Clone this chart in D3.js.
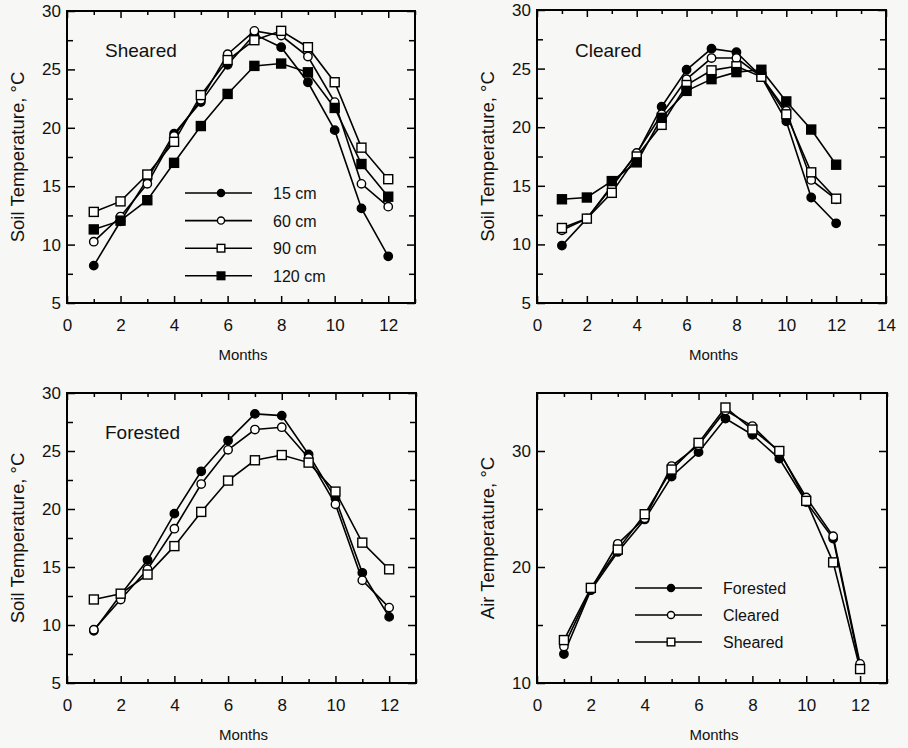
<!DOCTYPE html>
<html>
<head>
<meta charset="utf-8">
<script src="https://cdn.jsdelivr.net/npm/d3@7"></script>
<style>
  body { margin: 0; background: #f7f7f5; }
  svg { display: block; font-family: "Liberation Sans", Arial, Helvetica, sans-serif; }
  .tick text { font-size: 17px; fill: #111; }
</style>
</head>
<body>
<script>
// months on the x axis
const months = [1, 2, 3, 4, 5, 6, 7, 8, 9, 10, 11, 12]

// Sheared site, soil temp by depth
const sheared15 = [8.2, 12.0, 15.6, 19.5, 22.2, 25.4, 28.0, 26.9, 23.9, 19.8, 13.1, 9.0]
const sheared60 = [10.25, 12.4, 15.2, 19.3, 22.4, 26.3, 28.3, 27.9, 26.1, 22.2, 15.2, 13.25]
const sheared90 = [12.8, 13.7, 16.0, 18.8, 22.8, 25.8, 27.5, 28.3, 26.9, 23.9, 18.3, 15.6]
const sheared120 = [11.3, 12.05, 13.8, 17.0, 20.15, 22.9, 25.3, 25.5, 24.75, 21.7, 16.9, 14.1]

// Cleared site
const cleared15 = [9.9, 12.2, 15.0, 17.7, 21.75, 24.9, 26.7, 26.4, 24.3, 20.5, 14.0, 11.8]
const cleared60 = [11.2, 12.2, 14.9, 17.8, 21.1, 24.1, 25.9, 25.9, 24.3, 21.4, 15.5, 13.85]
const cleared90 = [11.4, 12.2, 14.4, 17.5, 20.2, 23.6, 24.85, 25.2, 24.3, 21.1, 16.15, 13.9]
const cleared120 = [13.85, 14.0, 15.4, 17.0, 20.8, 23.1, 24.1, 24.7, 24.9, 22.2, 19.8, 16.8]

// Forested site (no 120 cm)
const forested15 = [9.5, 12.6, 15.6, 19.6, 23.25, 25.9, 28.2, 28.05, 24.7, 20.9, 14.5, 10.7]
const forested60 = [9.6, 12.2, 14.8, 18.3, 22.15, 25.1, 26.85, 27.05, 24.4, 20.4, 13.85, 11.5]
const forested90 = [12.2, 12.7, 14.35, 16.8, 19.75, 22.45, 24.2, 24.65, 24.0, 21.5, 17.1, 14.8]

// Air temperature
const airForested = [12.5, 18.0, 21.3, 24.1, 27.8, 29.9, 32.8, 31.4, 29.35, 25.6, 22.45, 11.4]
const airCleared = [13.15, 18.1, 22.0, 24.2, 28.7, 30.5, 33.5, 32.15, 29.9, 26.0, 22.65, 11.65]
const airSheared = [13.7, 18.2, 21.5, 24.55, 28.4, 30.7, 33.75, 31.85, 30.0, 25.7, 20.4, 11.2]

const depthLabels = ['15 cm', '60 cm', '90 cm', '120 cm']
const siteLabels = ['Forested', 'Cleared', 'Sheared']
const symbols = ['dot', 'circle', 'square', 'fsquare']

const svg = d3.select('body').append('svg')
    .attr('width', 908)
    .attr('height', 748)

function marker(g, type, x, y, s){
    if(type == 'dot' || type == 'circle'){
        g.append('circle')
            .attr('cx', x).attr('cy', y).attr('r', 4.2 * s)
            .attr('fill', type == 'dot' ? '#000' : '#fff')
            .attr('stroke', '#000').attr('stroke-width', 1.4)
    }else{
        const h = 4.5 * s
        g.append('rect')
            .attr('x', x - h).attr('y', y - h).attr('width', 2 * h).attr('height', 2 * h)
            .attr('fill', type == 'fsquare' ? '#000' : '#fff')
            .attr('stroke', '#000').attr('stroke-width', 1.4)
    }
}

function panel(p){
    const x = d3.scaleLinear().domain(p.xDomain).range([p.x0, p.x1])
    const y = d3.scaleLinear().domain(p.yDomain).range([p.y1, p.y0])
    const g = svg.append('g')

    const xMaj = d3.range(p.xDomain[0], p.xDomain[1] + 1, 2)
    const xMin = d3.range(p.xDomain[0] + 1, p.xDomain[1] + 1, 2)

    g.append('g').attr('transform', `translate(0,${p.y1})`)
        .call(d3.axisBottom(x).tickValues(xMaj).tickSizeInner(-7).tickSizeOuter(0).tickPadding(16))
    g.append('g').attr('transform', `translate(0,${p.y1})`)
        .call(d3.axisBottom(x).tickValues(xMin).tickSizeInner(-4).tickSizeOuter(0).tickFormat(''))
    g.append('g').attr('transform', `translate(0,${p.y0})`)
        .call(d3.axisTop(x).tickValues(xMaj).tickSizeInner(-7).tickSizeOuter(0).tickFormat(''))
    g.append('g').attr('transform', `translate(0,${p.y0})`)
        .call(d3.axisTop(x).tickValues(xMin).tickSizeInner(-4).tickSizeOuter(0).tickFormat(''))

    g.append('g').attr('transform', `translate(${p.x0},0)`)
        .call(d3.axisLeft(y).tickValues(p.yMajor).tickSizeInner(-8).tickSizeOuter(0).tickPadding(6))
    g.append('g').attr('transform', `translate(${p.x0},0)`)
        .call(d3.axisLeft(y).tickValues(p.yMinor).tickSizeInner(-6).tickSizeOuter(0).tickFormat(''))
    g.append('g').attr('transform', `translate(${p.x1},0)`)
        .call(d3.axisRight(y).tickValues(p.yMajor).tickSizeInner(-8).tickSizeOuter(0).tickFormat(''))
    g.append('g').attr('transform', `translate(${p.x1},0)`)
        .call(d3.axisRight(y).tickValues(p.yMinor).tickSizeInner(-6).tickSizeOuter(0).tickFormat(''))

    g.selectAll('.domain').remove()
    g.selectAll('.tick line').attr('stroke', '#000').attr('stroke-width', 1.5)

    g.append('rect')
        .attr('x', p.x0).attr('y', p.y0)
        .attr('width', p.x1 - p.x0).attr('height', p.y1 - p.y0)
        .attr('fill', 'none').attr('stroke', '#000').attr('stroke-width', 2)

    const line = d3.line().x((d, i) => x(months[i])).y(d => y(d))
    p.series.forEach(function(s){
        g.append('path').datum(s.values)
            .attr('d', line)
            .attr('fill', 'none').attr('stroke', '#000').attr('stroke-width', 1.6)
    })
    p.series.forEach(function(s){
        s.values.forEach((v, i) => marker(g, s.symbol, x(months[i]), y(v), 1))
    })

    if(p.title){
        g.append('text').text(p.title)
            .attr('x', p.titleX).attr('y', p.titleY)
            .attr('font-size', 19).attr('fill', '#111')
    }

    if(p.legend){
        p.legend.labels.forEach(function(lab, i){
            const ly = p.legend.y + i * p.legend.step
            g.append('line')
                .attr('x1', p.legend.x).attr('x2', p.legend.x + 67)
                .attr('y1', ly).attr('y2', ly)
                .attr('stroke', '#000').attr('stroke-width', 1.6)
            marker(g, p.legend.symbols[i], p.legend.x + 36, ly, 0.85)
            g.append('text').text(lab)
                .attr('x', p.legend.x + 88).attr('y', ly + 6)
                .attr('font-size', p.legend.size).attr('fill', '#111')
        })
    }

    g.append('text').text('Months')
        .attr('x', (x(0) + p.x1) / 2 + 2).attr('y', p.y1 + 57)
        .attr('text-anchor', 'middle').attr('font-size', 15).attr('fill', '#111')

    g.append('text').text(p.yLabel)
        .attr('transform', `translate(${p.x0 - 43},${(p.y0 + p.y1) / 2}) rotate(-90)`)
        .attr('text-anchor', 'middle').attr('font-size', 18.5).attr('fill', '#111')
}

const soilMajor = [5, 10, 15, 20, 25, 30]
const soilMinor = [7.5, 12.5, 17.5, 22.5, 27.5]

panel({
    x0: 67, x1: 415, y0: 11, y1: 303, xDomain: [0, 13], yDomain: [5, 30],
    yMajor: soilMajor, yMinor: soilMinor, yLabel: 'Soil Temperature, °C',
    title: 'Sheared', titleX: 105, titleY: 57,
    series: [
        {values: sheared15, symbol: symbols[0]},
        {values: sheared60, symbol: symbols[1]},
        {values: sheared90, symbol: symbols[2]},
        {values: sheared120, symbol: symbols[3]}
    ],
    legend: {x: 185, y: 193, step: 27.6, labels: depthLabels, symbols: symbols, size: 16}
})

panel({
    x0: 537, x1: 886, y0: 10, y1: 303, xDomain: [0, 14], yDomain: [5, 30],
    yMajor: soilMajor, yMinor: soilMinor, yLabel: 'Soil Temperature, °C',
    title: 'Cleared', titleX: 575, titleY: 57,
    series: [
        {values: cleared15, symbol: symbols[0]},
        {values: cleared60, symbol: symbols[1]},
        {values: cleared90, symbol: symbols[2]},
        {values: cleared120, symbol: symbols[3]}
    ]
})

panel({
    x0: 67, x1: 416, y0: 393, y1: 683, xDomain: [0, 13], yDomain: [5, 30],
    yMajor: soilMajor, yMinor: soilMinor, yLabel: 'Soil Temperature, °C',
    title: 'Forested', titleX: 105, titleY: 439,
    series: [
        {values: forested15, symbol: symbols[0]},
        {values: forested60, symbol: symbols[1]},
        {values: forested90, symbol: symbols[2]}
    ]
})

panel({
    x0: 537, x1: 887, y0: 393, y1: 683, xDomain: [0, 13], yDomain: [10, 35],
    yMajor: [10, 20, 30], yMinor: [15, 25], yLabel: 'Air Temperature, °C',
    series: [
        {values: airForested, symbol: symbols[0]},
        {values: airCleared, symbol: symbols[1]},
        {values: airSheared, symbol: symbols[2]}
    ],
    legend: {x: 635, y: 588, step: 27, labels: siteLabels, symbols: symbols, size: 16}
})
</script>
</body>
</html>
